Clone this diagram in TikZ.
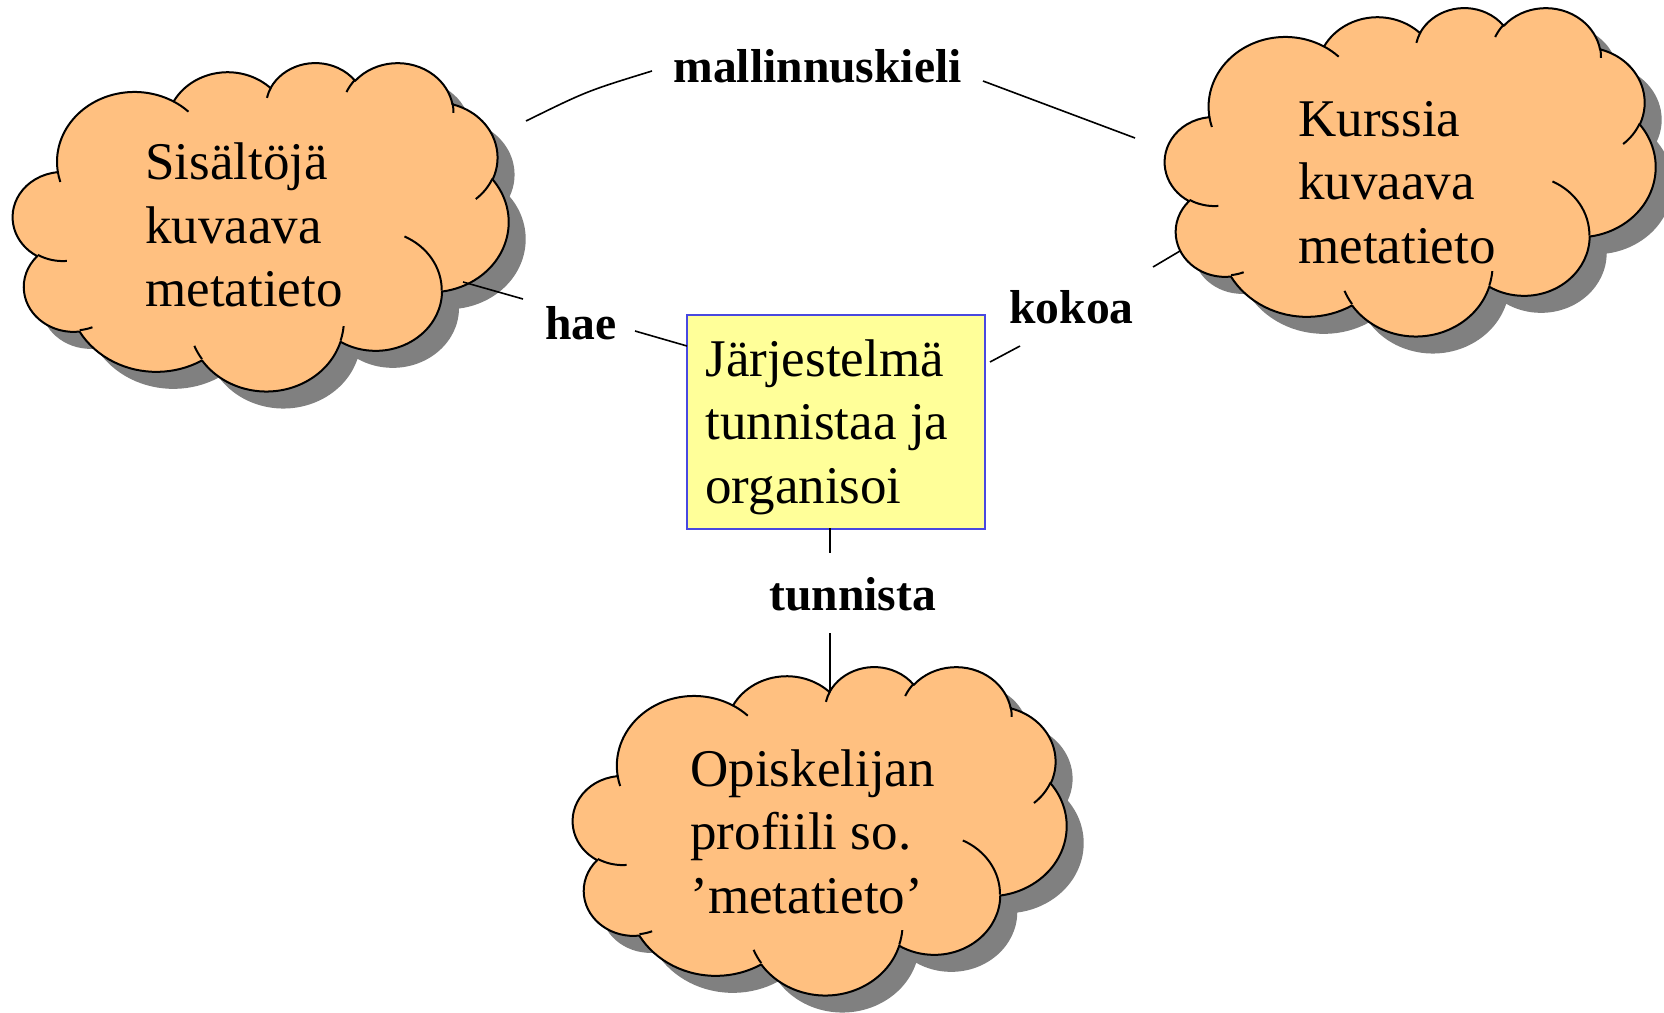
\documentclass[tikz,border=0pt]{standalone}
\usepackage{fontspec}
\setmainfont{Liberation Serif}
\definecolor{cloudfill}{RGB}{255,192,128}
\definecolor{cshadow}{RGB}{128,128,128}
\definecolor{boxfill}{RGB}{255,255,153}
\definecolor{boxline}{RGB}{72,72,224}

\newcommand\cloudarc[4]{%
  \pgfmathsetmacro\cta{atan2((#1)*sin(#3),(#2)*cos(#3))}%
  \pgfmathsetmacro\ctb{atan2((#1)*sin((#3)+(#4)),(#2)*cos((#3)+(#4)))}%
  \pgfmathsetmacro\ctb{ifthenelse(\ctb<\cta,\ctb+360,\ctb)}%
  \pgfpatharc{\cta}{\ctb}{#1pt and #2pt}}

\newcommand\cloudoutline{%
 \pgfpathmoveto{\pgfpoint{9.0278pt}{33.2639pt}}%
 \cloudarc{15.632}{21.273}{-190.4875}{123.7805}%
 \cloudarc{12.345}{16.822}{-144.1024}{89.9452}%
 \cloudarc{10.104}{13.762}{-145.8079}{99.7230}%
 \cloudarc{11.243}{15.266}{-130.9861}{117.2417}%
 \cloudarc{12.345}{16.836}{-78.7089}{109.0269}%
 \cloudarc{15.683}{21.343}{-46.2673}{130.2690}%
 \cloudarc{13.391}{18.211}{0.6250}{114.0333}%
 \cloudarc{15.630}{21.331}{22.4516}{115.1726}%
 \cloudarc{17.870}{24.405}{66.2426}{75.7110}%
 \cloudarc{10.093}{13.699}{-274.9421}{146.7356}%
 \cloudarc{10.058}{13.762}{-246.8285}{152.5189}%
 \pgfpathclose}

\newcommand\cloudinner{%
 \pgfpathmoveto{\pgfpoint{10.863pt}{60.595pt}}\cloudarc{10.058}{13.762}{86.742}{26.4295}%
 \pgfpathmoveto{\pgfpoint{16.037pt}{80.785pt}}\cloudarc{10.093}{13.699}{73.6105}{11.4475}%
 \pgfpathmoveto{\pgfpoint{38.144pt}{90.486pt}}\cloudarc{15.630}{21.331}{137.6242}{14.0811}%
 \pgfpathmoveto{\pgfpoint{66.729pt}{80.442pt}}\cloudarc{15.630}{21.331}{6.4533}{15.9984}%
 \pgfpathmoveto{\pgfpoint{79.002pt}{53.134pt}}\cloudarc{13.391}{18.211}{-70.2924}{70.9174}%
 \pgfpathmoveto{\pgfpoint{96.755pt}{35.542pt}}\cloudarc{12.345}{16.836}{30.3180}{27.7515}%
 \pgfpathmoveto{\pgfpoint{88.713pt}{12.560pt}}\cloudarc{11.243}{15.266}{-13.7443}{14.8589}%
 \pgfpathmoveto{\pgfpoint{67.310pt}{9.148pt}}\cloudarc{11.243}{15.266}{-149.1815}{18.1954}%
 \pgfpathmoveto{\pgfpoint{51.252pt}{10.926pt}}\cloudarc{10.104}{13.762}{-163.4943}{17.6864}%
 \pgfpathmoveto{\pgfpoint{32.407pt}{12.019pt}}\cloudarc{15.632}{21.273}{-66.7070}{12.3194}%
 \pgfpathmoveto{\pgfpoint{9.553pt}{36.549pt}}\cloudarc{15.632}{21.273}{157.6544}{11.8582}%
}

% #1 x0, #2 y0, #3 width, #4 height (pixels of the reference)
\newcommand\drawcloud[4]{%
 \pgfmathsetmacro\csx{(#3)*0.005}%
 \pgfmathsetmacro\csy{-(#4)*0.005}%
 \begin{pgfscope}
  \pgftransformshift{\pgfpoint{(#1+17)*0.5pt}{-(#2+17)*0.5pt}}%
  \pgftransformcm{\csx}{0}{0}{\csy}{\pgfpointorigin}%
  \pgfsetfillcolor{cshadow}%
  \cloudoutline
  \pgfusepath{fill}%
 \end{pgfscope}
 \begin{pgfscope}
  \pgftransformshift{\pgfpoint{(#1)*0.5pt}{-(#2)*0.5pt}}%
  \pgftransformcm{\csx}{0}{0}{\csy}{\pgfpointorigin}%
  \pgfsetlinewidth{1pt}\pgfsetroundjoin
  \pgfsetstrokecolor{black}\pgfsetfillcolor{cloudfill}%
  \cloudoutline
  \pgfusepath{fill,stroke}%
  \cloudinner
  \pgfusepath{stroke}%
 \end{pgfscope}}

\tikzset{
 cloudtext/.style={anchor=base west, align=left, inner sep=0pt,
   font=\fontsize{26.5}{31.8}\selectfont},
 linklabel/.style={anchor=base west, inner sep=0pt,
   font=\fontsize{23.8}{28}\selectfont\bfseries},
 conn/.style={line width=0.8pt, draw=black},
 sysbox/.style={draw=boxline, fill=boxfill, line width=0.8pt, inner sep=0pt,
   minimum width=149pt, minimum height=107pt, anchor=north west},
}

\begin{document}
\begin{tikzpicture}[x=0.5pt,y=-0.5pt]
\path[use as bounding box, fill=white] (0,0) rectangle (1664,1012);

% clouds
\drawcloud{13}{62}{495}{328}
\drawcloud{1165}{7}{490}{328}
\drawcloud{573}{666}{493}{328}

% central box (text anchored at the baseline of its last line)
\node[sysbox] (sys) at (686,314) {};
\node[cloudtext] (systext) at (705,503.3) {Järjestelmä\\tunnistaa ja\\organisoi};

% cloud texts (anchored at the baseline of the last line)
\node[cloudtext] (L) at (145,306.7) {Sisältöjä\\kuvaava\\metatieto};
\node[cloudtext] (R) at (1298,263.3) {Kurssia\\kuvaava\\metatieto};
\node[cloudtext] (B) at (690,913.3) {Opiskelijan\\profiili so.\\’metatieto’};

% connector labels
\node[linklabel] (mk) at (673,82) {mallinnuskieli};
\node[linklabel] (hae) at (545,339) {hae};
\node[linklabel] (kokoa) at (1009,323) {kokoa};
\node[linklabel] (tun) at (769,610) {tunnista};

% connector ends
\coordinate (mkL) at (526,121);
\coordinate (mkLi) at (652,71);
\coordinate (mkRi) at (983,81);
\coordinate (mkR) at (1135,138);
\coordinate (haeA) at (463,282);
\coordinate (haeB) at (523,299);
\coordinate (haeC) at (635,331);
\coordinate (haeD) at (687,346);
\coordinate (kokA) at (1180,251);
\coordinate (kokB) at (1153,267);
\coordinate (kokC) at (1020,346);
\coordinate (kokD) at (990,362);
\coordinate (tunA) at (830,528);
\coordinate (tunB) at (830,553);
\coordinate (tunC) at (830,633);
\coordinate (tunD) at (830,692);

\draw[conn] (mkL) .. controls (587,91) .. (mkLi);
\draw[conn] (mkRi) -- (mkR);
\draw[conn] (haeA) -- (haeB);
\draw[conn] (haeC) -- (haeD);
\draw[conn] (kokA) -- (kokB);
\draw[conn] (kokC) -- (kokD);
\draw[conn] (tunA) -- (tunB);
\draw[conn] (tunC) -- (tunD);
\end{tikzpicture}
\end{document}
